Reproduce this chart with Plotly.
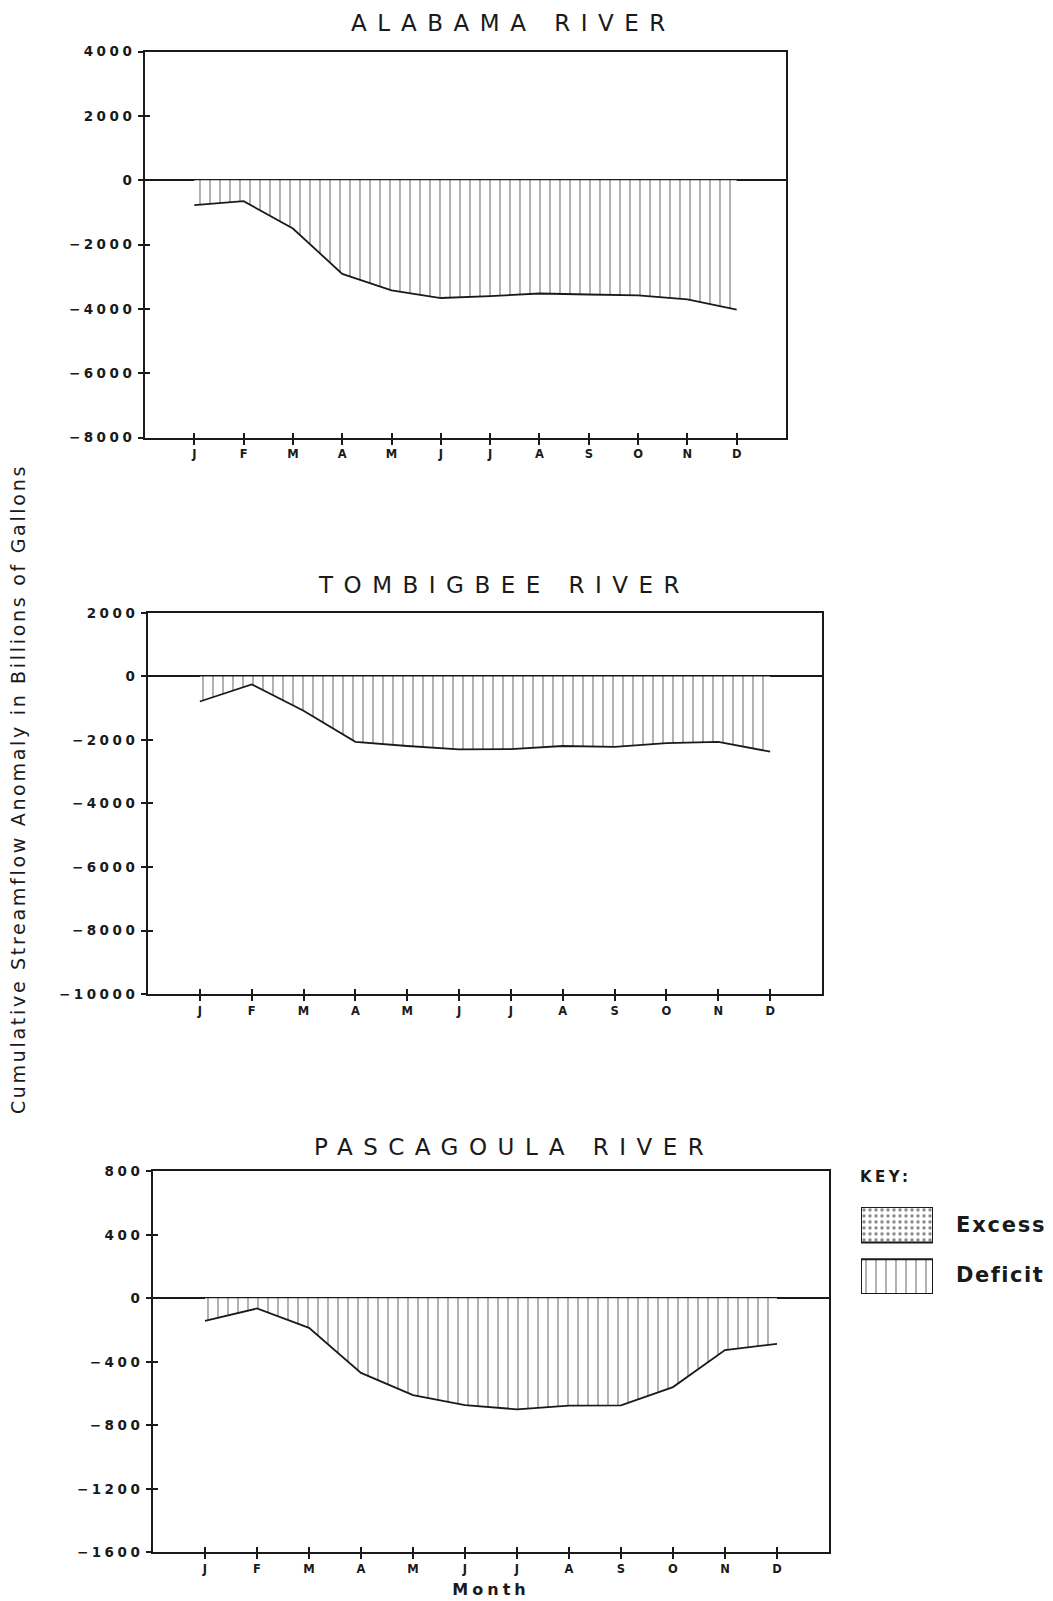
import plotly.graph_objects as go

W, H = 1053, 1601

months = [1, 2, 3, 4, 5, 6, 7, 8, 9, 10, 11, 12]
month_labels = ["J", "F", "M", "A", "M", "J", "J", "A", "S", "O", "N", "D"]

alabama = [-770, -650, -1500, -2910, -3420, -3660, -3600, -3520, -3550, -3580, -3700, -4020]
tombigbee = [-790, -250, -1080, -2060, -2190, -2300, -2290, -2190, -2220, -2100, -2060, -2370]
pascagoula = [-142, -64, -186, -470, -610, -672, -699, -676, -674, -559, -326, -287]

titles = ["ALABAMA RIVER", "TOMBIGBEE RIVER", "PASCAGOULA RIVER"]
y_ranges = [[-8000, 4000], [-10000, 2000], [-1600, 800]]
y_ticks = [[-8000, -6000, -4000, -2000, 0, 2000, 4000],
           [-10000, -8000, -6000, -4000, -2000, 0, 2000],
           [-1600, -1200, -800, -400, 0, 400, 800]]

# pixel boxes (left, right, top, bottom)
boxes = [(145, 786, 44, 434), (148, 822, 611, 996), (153, 829, 1175, 1560)]
title_pos = [(513, 15), (504, 583), (514, 1151)]

FONT = "DejaVu Sans"
INK = "#1a1a1a"


def spaced(s, px):
    return '<span style="letter-spacing:%spx">%s</span>' % (px, s)


def fmt(v):
    return ("\u2212" + str(-v)) if v < 0 else str(v)


fig = go.Figure()

series = [alabama, tombigbee, pascagoula]
for i, vals in enumerate(series):
    sfx = "" if i == 0 else str(i + 1)
    osfx = str(i + 5)
    fig.add_trace(go.Scatter(
        x=months, y=vals, mode="lines",
        line=dict(color=INK, width=1.8),
        fill="tozeroy", fillcolor="rgba(0,0,0,0)",
        fillpattern=dict(shape="|", size=10, solidity=0.12, fgcolor="#000000", bgcolor="white"),
        xaxis="x" + sfx, yaxis="y" + sfx, showlegend=False, hoverinfo="skip"))
    l, r, t, b = boxes[i]
    fig.layout["xaxis" + sfx] = dict(
        domain=[l / W, r / W], anchor="y" + sfx, range=[0, 13],
        tickvals=months, ticktext=month_labels,
        ticks="outside", ticklen=5, tickwidth=2,
        tickcolor=INK, showline=True, linecolor=INK, linewidth=2, mirror=True,
        showgrid=False, zeroline=False,
        tickfont=dict(family=FONT, size=11.5, color=INK, weight="bold"))
    fig.layout["yaxis" + sfx] = dict(
        domain=[1 - b / H, 1 - t / H], anchor="x" + sfx, range=y_ranges[i],
        tickvals=y_ticks[i], ticktext=[spaced(fmt(v), 3.5) for v in y_ticks[i]],
        ticks="outside", ticklen=5, tickwidth=2, tickcolor=INK,
        showline=True, linecolor=INK, linewidth=2, mirror=True,
        showgrid=False, zeroline=True, zerolinecolor=INK, zerolinewidth=2,
        tickfont=dict(family=FONT, size=13.5, color=INK, weight="bold"))
    # overlay axes giving the inward half of the crossing tick marks
    fig.layout["xaxis" + osfx] = dict(
        domain=[l / W, r / W], anchor="y" + osfx, range=[0, 13], overlaying="x" + sfx,
        tickvals=months, ticks="inside", ticklen=5, tickwidth=2, tickcolor=INK,
        showticklabels=False, showline=False, showgrid=False, zeroline=False)
    fig.layout["yaxis" + osfx] = dict(
        domain=[1 - b / H, 1 - t / H], anchor="x" + osfx, range=y_ranges[i], overlaying="y" + sfx,
        tickvals=y_ticks[i], ticks="inside", ticklen=5, tickwidth=2, tickcolor=INK,
        showticklabels=False, showline=False, showgrid=False, zeroline=False)
    fig.add_trace(go.Scatter(x=[None], y=[None], xaxis="x" + osfx, yaxis="y" + osfx,
                             showlegend=False, hoverinfo="skip"))
    tx, ty = title_pos[i]
    fig.add_annotation(text=spaced(titles[i], 10.5), x=tx / W, y=1 - ty / H, xref="paper", yref="paper",
                       showarrow=False, xanchor="center", yanchor="middle",
                       font=dict(family=FONT, size=23, color=INK))

fig.layout.xaxis3.title = dict(text=spaced("Month", 4), standoff=9,
                               font=dict(family=FONT, size=16, color=INK, weight="bold"))

# y-axis title
fig.add_annotation(text=spaced("Cumulative Streamflow Anomaly in Billions of Gallons", 2.7),
                   x=18 / W, y=1 - 789 / H, xref="paper", yref="paper", textangle=-90,
                   showarrow=False, xanchor="center", yanchor="middle",
                   font=dict(family=FONT, size=19, color=INK))

# key (legend)
fig.add_trace(go.Scatter(x=[0, 1, 1, 0, 0], y=[52, 52, 88, 88, 52], mode="lines", fill="toself",
                         fillcolor="rgba(0,0,0,0)",
                         fillpattern=dict(shape=".", size=6, solidity=0.25, fgcolor="#111111", bgcolor="white"),
                         line=dict(color=INK, width=2), xaxis="x4", yaxis="y4",
                         showlegend=False, hoverinfo="skip"))
fig.add_trace(go.Scatter(x=[0, 1, 1, 0, 0], y=[0, 0, 35, 35, 0], mode="lines", fill="toself",
                         fillcolor="rgba(0,0,0,0)",
                         fillpattern=dict(shape="|", size=10, solidity=0.12, fgcolor="#000000", bgcolor="white"),
                         line=dict(color=INK, width=2), xaxis="x4", yaxis="y4",
                         showlegend=False, hoverinfo="skip"))
fig.layout.xaxis4 = dict(domain=[861 / W, 933 / W], anchor="y4", range=[0, 1], visible=False)
fig.layout.yaxis4 = dict(domain=[1 - 1299 / H, 1 - 1211 / H], anchor="x4", range=[0, 88], visible=False)

fig.add_annotation(text=spaced("KEY:", 3.5), x=858 / W, y=1 - 1181 / H, xref="paper", yref="paper",
                   showarrow=False, xanchor="left", yanchor="middle",
                   font=dict(family=FONT, size=15, color=INK, weight="bold"))
fig.add_annotation(text=spaced("Excess", 1.8), x=954 / W, y=1 - 1229 / H, xref="paper", yref="paper",
                   showarrow=False, xanchor="left", yanchor="middle",
                   font=dict(family=FONT, size=21, color=INK, weight="bold"))
fig.add_annotation(text=spaced("Deficit", 1.5), x=954 / W, y=1 - 1280 / H, xref="paper", yref="paper",
                   showarrow=False, xanchor="left", yanchor="middle",
                   font=dict(family=FONT, size=21, color=INK, weight="bold"))

fig.update_layout(width=W, height=H, margin=dict(l=0, r=0, t=0, b=0),
                  paper_bgcolor="white", plot_bgcolor="white", showlegend=False)

fig.write_html("out.html")
